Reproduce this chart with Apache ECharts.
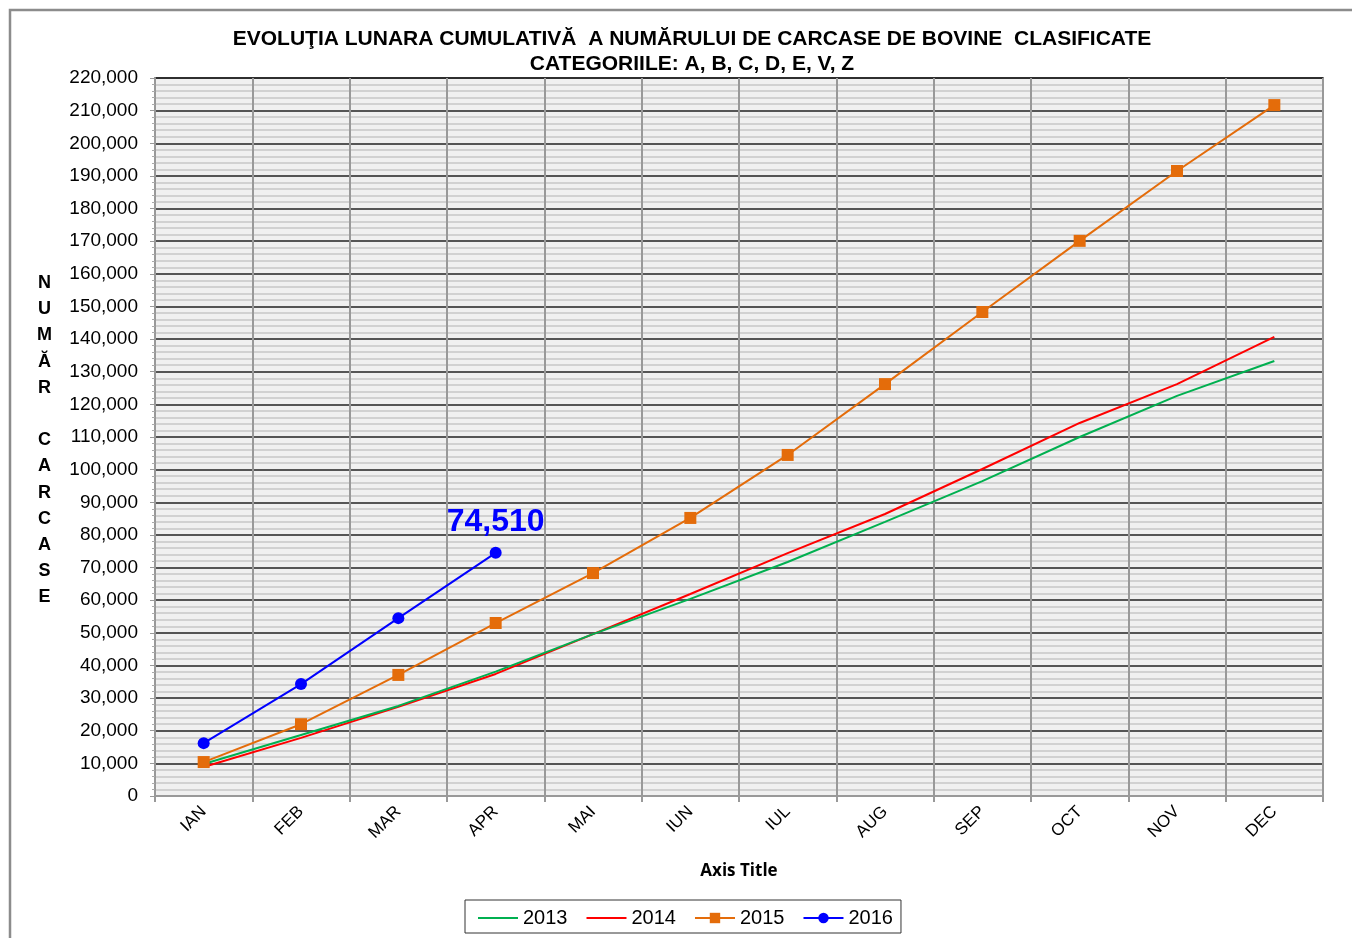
<!DOCTYPE html>
<html>
<head>
<meta charset="utf-8">
<script src="https://cdn.jsdelivr.net/npm/echarts@6/dist/echarts.min.js"></script>
<style>html,body{margin:0;padding:0;background:#fff}#c{width:1352px;height:938px}</style>
</head>
<body>
<div id="c"></div>
<script>
const months = ['IAN','FEB','MAR','APR','MAI','IUN','IUL','AUG','SEP','OCT','NOV','DEC'];
const s2013 = [9800,18700,27600,38100,49600,60400,71700,84000,96500,110000,122600,133300];
const s2014 = [8900,17800,27300,37400,49600,61900,74400,86400,100200,114300,126200,140700];
const s2015 = [10400,22000,37100,53000,68300,85200,104500,126200,148300,170100,191500,211700];
const s2016 = [16200,34300,54500,74510];
const titleLines = ['EVOLUŢIA LUNARA CUMULATIVĂ  A NUMĂRULUI DE CARCASE DE BOVINE  CLASIFICATE','CATEGORIILE: A, B, C, D, E, V, Z'];
const yName = 'NUMĂR CARCASE';
const xName = 'Axis Title';

const font = '"Liberation Sans", Arial, sans-serif';
const chart = echarts.init(document.getElementById('c'));
const fmt = v => v.toLocaleString('en-US');

chart.setOption({
  animation: false,
  backgroundColor: '#fff',
  textStyle: { fontFamily: font },
  title: {
    text: titleLines.join('\n'),
    left: 687, top: 22, textAlign: 'center',
    textStyle: { fontSize: 21, fontWeight: 'bold', color: '#000', lineHeight: 25, fontFamily: font }
  },
  graphic: [
    { type: 'rect', shape: { x: 10, y: 10, width: 1400, height: 1000 }, style: { fill: 'none', stroke: '#8c8c8c', lineWidth: 2.5 }, z: -1 },
    { type: 'text', left: 37, top: 270,
      style: { text: yName.split('').map(c => c === ' ' ? '' : c).join('\n'), font: 'bold 18px ' + font, fill: '#000', lineHeight: 26.2, textAlign: 'center' } }
  ],
  legend: {
    bottom: 5, left: 465,
    data: [
      { name: '2013', itemStyle: { opacity: 0 } },
      { name: '2014', itemStyle: { opacity: 0 } },
      { name: '2015' },
      { name: '2016' }
    ],
    borderColor: '#333', borderWidth: 1,
    padding: [8, 8, 5, 12],
    itemWidth: 40, itemHeight: 13, itemGap: 18,
    textStyle: { fontSize: 20, color: '#000', fontFamily: font }
  },
  grid: {
    left: 155, right: 29, top: 78, bottom: 142,
    show: true, backgroundColor: '#f0f0f0', borderColor: '#222', borderWidth: 1.5
  },
  xAxis: {
    type: 'category', data: months, boundaryGap: true,
    name: xName, nameLocation: 'middle', nameGap: 67,
    nameTextStyle: { fontSize: 17, fontWeight: 'bold', color: '#000', fontFamily: '"Open Sans", sans-serif' },
    axisLine: { lineStyle: { color: '#999', width: 2 } },
    axisTick: { show: true, length: 6, lineStyle: { color: '#999', width: 2 } },
    axisLabel: { rotate: 45, fontSize: 17, color: '#000', margin: 13, interval: 0 },
    splitLine: { show: true, lineStyle: { color: '#999', width: 2 } }
  },
  yAxis: {
    type: 'value', min: 0, max: 220000, interval: 10000,
    axisLine: { show: true, lineStyle: { color: '#999', width: 2 } },
    axisTick: { show: true, length: 5, lineStyle: { color: '#999' } },
    minorTick: { show: true, splitNumber: 5, length: 3, lineStyle: { color: '#aaa' } },
    axisLabel: { fontSize: 19, color: '#000', margin: 17, formatter: fmt },
    splitLine: { show: true, lineStyle: { color: '#222', width: 1.5 } },
    minorSplitLine: { show: true, lineStyle: { color: '#c6c6c6', width: 1.5 } }
  },
  series: [
    { name: '2013', type: 'line', data: s2013, symbol: 'none', lineStyle: { color: '#00b050', width: 2 }, itemStyle: { color: '#00b050' }, z: 3 },
    { name: '2014', type: 'line', data: s2014, symbol: 'none', lineStyle: { color: '#ff0000', width: 2 }, itemStyle: { color: '#ff0000' }, z: 2 },
    { name: '2015', type: 'line', data: s2015, symbol: 'rect', symbolSize: 12, lineStyle: { color: '#e46c0a', width: 2 }, itemStyle: { color: '#e46c0a' }, z: 4 },
    { name: '2016', type: 'line', data: s2016, symbol: 'circle', symbolSize: 12, lineStyle: { color: '#0000ff', width: 2 }, itemStyle: { color: '#0000ff' }, z: 5,
      label: { show: true, position: 'top', distance: 9, fontSize: 32, fontWeight: 'bold', color: '#0000ff', fontFamily: font,
        formatter: p => p.dataIndex === s2016.length - 1 ? fmt(p.value) : '' } }
  ]
});
</script>
</body>
</html>
